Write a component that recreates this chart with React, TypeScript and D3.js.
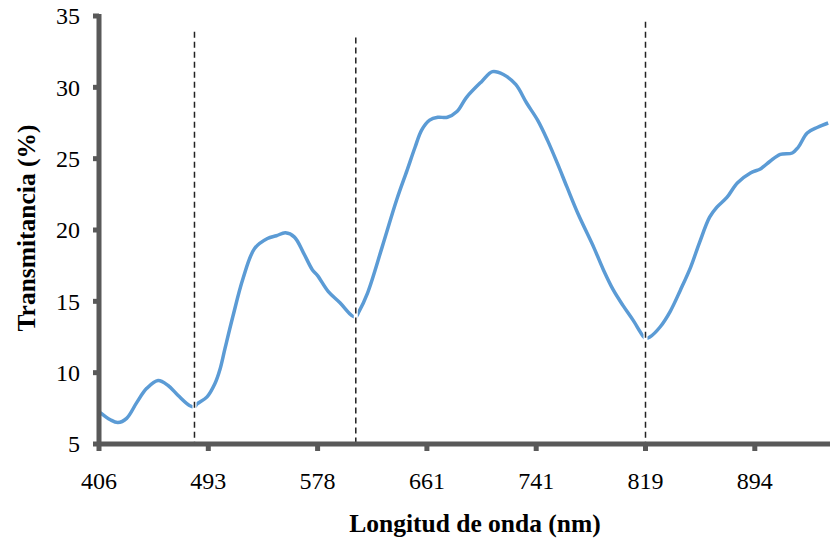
import React from 'react';
import * as d3 from 'd3';

// tick labels of the category axis (Excel shows one label every N points)
const tickLabels = [406, 493, 578, 661, 741, 819, 894];
// wavelength at the slot after the last label, only used to extend the axis
const axisEnd = 967;

const wavelength = [
  407, 415, 421, 428, 436, 444, 453, 461, 469, 478, 482, 484, 492,
  498, 502, 506, 512, 520, 529, 539, 546, 553, 560, 567, 574, 578,
  586, 595, 604, 607, 609, 616, 627, 638, 646, 652, 657,
  663, 669, 676, 683, 690, 701, 709, 717, 726, 734,
  742, 749, 756, 763, 771, 782, 789, 796, 803, 810, 817, 819,
  822, 829, 836, 843, 850, 856, 863, 868, 875, 882, 891,
  898, 904, 911, 919, 923, 929, 936, 943,
];
const transmitancia = [
  7.2, 6.7, 6.5, 6.8, 7.9, 8.9, 9.45, 9.1, 8.4, 7.7, 7.6, 7.8, 8.3,
  9.2, 10.2, 11.7, 13.9, 16.6, 18.7, 19.4, 19.6, 19.8, 19.5, 18.4, 17.2, 16.8,
  15.7, 14.9, 14.0, 13.9, 14.2, 15.6, 18.8, 22.1, 24.2, 25.8, 27.0,
  27.7, 27.9, 27.9, 28.3, 29.3, 30.4, 31.1, 30.9, 30.2, 28.9,
  27.7, 26.3, 24.7, 23.0, 21.1, 18.8, 17.2, 15.8, 14.7, 13.7, 12.6, 12.4,
  12.5, 13.2, 14.3, 15.8, 17.4, 19.1, 20.9, 21.6, 22.3, 23.3, 24.0,
  24.3, 24.8, 25.3, 25.4, 25.8, 26.8, 27.2, 27.5,
];

// vertical dashed markers at the three minima
const markerWavelength = [482, 607, 819];
const markerTop = [33.9, 33.5, 34.6];

const yTicks = [5, 10, 15, 20, 25, 30, 35];

const W = 830;
const H = 542;
const x0 = 99;
const step = 109.3;

export default function App() {
  const x = d3
    .scaleLinear()
    .domain([...tickLabels, axisEnd])
    .range([...tickLabels, axisEnd].map((_, i) => x0 + i * step));
  const y = d3.scaleLinear().domain([5, 35]).range([444, 16]);

  const line = d3
    .line<number>()
    .x((_, i) => x(wavelength[i]))
    .y((d) => y(d))
    .curve(d3.curveCatmullRom.alpha(0.5));

  const axisColor = '#595959';
  const serif = '"Liberation Serif", "Times New Roman", serif';

  return (
    <svg
      width={W}
      height={H}
      style={{ position: 'absolute', left: 0, top: 0, background: '#fff' }}
    >
      <defs>
        <clipPath id="plot">
          <rect x={x0} y={0} width={W - x0} height={H} />
        </clipPath>
      </defs>

      <path
        d={line(transmitancia) || ''}
        fill="none"
        stroke="#5B9BD5"
        strokeWidth={3.5}
        strokeLinejoin="round"
        clipPath="url(#plot)"
      />

      {markerWavelength.map((w, i) => (
        <g key={w}>
          {/* white under-stroke makes the small break in the curve */}
          <line x1={x(w)} x2={x(w)} y1={y(markerTop[i])} y2={y(5)} stroke="#fff" strokeWidth={4} />
          <line
            x1={x(w)}
            x2={x(w)}
            y1={y(markerTop[i])}
            y2={y(5)}
            stroke="#222"
            strokeWidth={1.5}
            strokeDasharray="6,4"
          />
        </g>
      ))}

      {/* y axis */}
      <line x1={x0} x2={x0} y1={y(35) - 2} y2={y(5) + 2} stroke={axisColor} strokeWidth={5} />
      {yTicks.map((t) => (
        <g key={t}>
          <line x1={x0 - 6} x2={x0} y1={y(t)} y2={y(t)} stroke={axisColor} strokeWidth={5} />
          <text
            x={80}
            y={y(t)}
            dy="0.35em"
            textAnchor="end"
            fontFamily={serif}
            fontSize={24}
            fill="#000"
          >
            {t}
          </text>
        </g>
      ))}

      {/* x axis */}
      <line x1={x0 - 2} x2={W} y1={y(5)} y2={y(5)} stroke={axisColor} strokeWidth={5} />
      {tickLabels.map((t) => (
        <g key={t}>
          <line x1={x(t)} x2={x(t)} y1={y(5)} y2={y(5) + 7} stroke={axisColor} strokeWidth={5} />
          <text
            x={x(t)}
            y={489}
            textAnchor="middle"
            fontFamily={serif}
            fontSize={24}
            fill="#000"
          >
            {t}
          </text>
        </g>
      ))}

      <text
        x={475}
        y={532}
        textAnchor="middle"
        fontFamily={serif}
        fontWeight="bold"
        fontSize={25.5}
        fill="#000"
      >
        Longitud de onda (nm)
      </text>
      <text
        transform={`translate(35,228) rotate(-90)`}
        textAnchor="middle"
        fontFamily={serif}
        fontWeight="bold"
        fontSize={25.5}
        fill="#000"
      >
        Transmitancia (%)
      </text>
    </svg>
  );
}
